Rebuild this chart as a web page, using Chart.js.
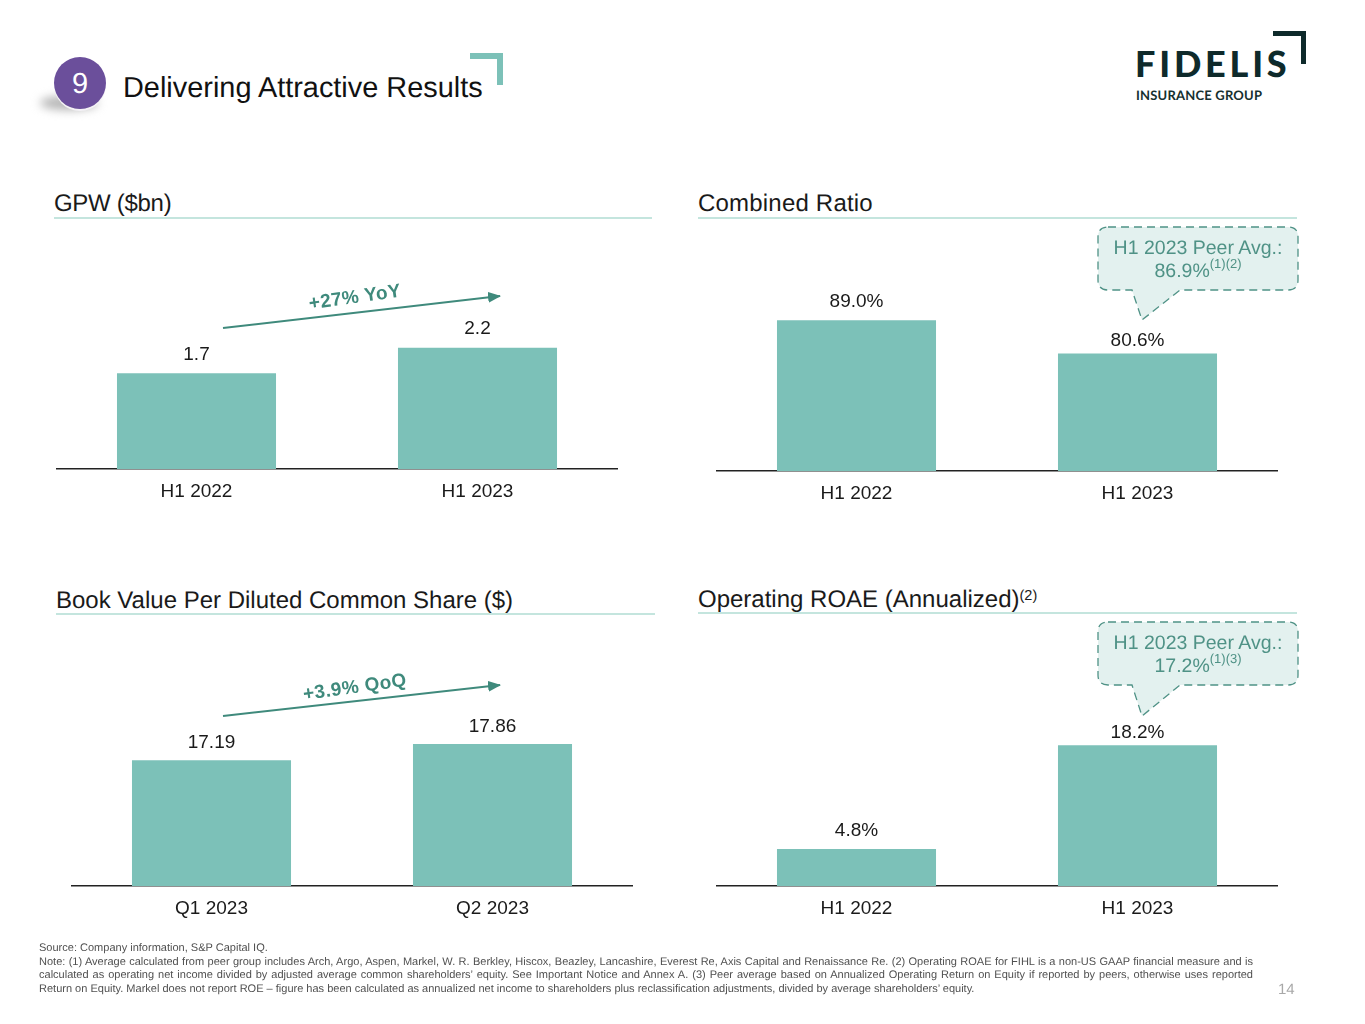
<!DOCTYPE html>
<html>
<head>
<meta charset="utf-8">
<title>Delivering Attractive Results</title>
<script src="https://cdn.jsdelivr.net/npm/chart.js@4/dist/chart.umd.js"></script>
<style>
    html, body { margin: 0; padding: 0; background: #fff; }
    body { position: relative; width: 1365px; height: 1024px; overflow: hidden; font-family: "Liberation Sans", Arial, sans-serif; color: #111; text-rendering: geometricPrecision; }
    canvas { position: absolute; }
    svg { position: absolute; left: 0; top: 0; }
    .abs { position: absolute; white-space: nowrap; }
    .section { font-size: 24px; line-height: 26px; color: #1a1a1a; }
    .section sup { font-size: 14.5px; line-height: 0; vertical-align: 7px; }
    .rule { position: absolute; height: 2px; background: #c4e5de; }
    .peer { width: 200px; text-align: center; font-size: 19.5px; line-height: 23px; color: #4f9286; }
    .peer sup { font-size: 13px; line-height: 0; vertical-align: 9px; }
    .growth { font-size: 19px; font-weight: bold; color: #3f8a7c; letter-spacing: 0.4px; transform: translate(-50%, -50%) rotate(-8deg); }
    .note { left: 39px; width: 1214px; font-size: 11.02px; line-height: 13.6px; color: #505050; }
    .note.fill { white-space: normal; text-align: justify; text-align-last: justify; }
    #badge { left: 54px; top: 57px; width: 52px; height: 52px; border-radius: 50%; background: radial-gradient(circle at 50% 50%, #6b4f9b 0%, #6b4f9b 76%, #8d77b5 100%); color: #fff; font-size: 29px; line-height: 54px; text-align: center; box-shadow: 0 2px 0 #f4f2f6; }
    #badgeShadow { left: 40px; top: 96px; width: 58px; height: 14px; border-radius: 50%; background: #b4b4b4; filter: blur(5px); }
    #logoName { left: 1135px; top: 40px; font-family: Lato, sans-serif; font-weight: 900; font-size: 36px; line-height: 46px; letter-spacing: 3.8px; color: #0e2a2b; }
    #logoSub { left: 1136px; top: 88px; font-family: Lato, sans-serif; font-weight: 700; font-size: 13px; line-height: 15px; letter-spacing: 0.2px; color: #16302f; }
</style>
</head>
<body>
<div id="badgeShadow" class="abs"></div>
<div id="badge" class="abs">9</div>
<div class="abs" style="left:123px;top:70.500px;font-size:28.9px;line-height:34px;color:#111">Delivering Attractive Results</div>
<div id="logoName" class="abs">FIDELIS</div>
<div id="logoSub" class="abs">INSURANCE GROUP</div>

<div class="abs section" style="left:54px;top:191px;letter-spacing:-0.3px">GPW ($bn)</div>
<div class="rule" style="left:54px;top:217px;width:598px"></div>
<div class="abs section" style="left:698px;top:191px;letter-spacing:0.2px">Combined Ratio</div>
<div class="rule" style="left:698px;top:217px;width:599px"></div>
<div class="abs section" style="left:56px;top:588px">Book Value Per Diluted Common Share ($)</div>
<div class="rule" style="left:56px;top:613px;width:599px"></div>
<div class="abs section" style="left:698px;top:587px">Operating ROAE (Annualized)<sup>(2)</sup></div>
<div class="rule" style="left:698px;top:612px;width:599px"></div>

<canvas id="gpwChart" width="562" height="261" style="left:56px;top:248px"></canvas>
<canvas id="ratioChart" width="562" height="278" style="left:716px;top:233px"></canvas>
<canvas id="bookChart" width="562" height="281" style="left:71px;top:645px"></canvas>
<canvas id="roaeChart" width="562" height="272" style="left:716px;top:654px"></canvas>

<svg width="1365" height="1024">
    <defs>
        <marker id="head" markerWidth="13" markerHeight="11" refX="12" refY="5.500" orient="auto" markerUnits="userSpaceOnUse">
            <path d="M0 0 L13 5.500 L0 11 Z" fill="#3f8a7c"></path>
        </marker>
    </defs>
    <path d="M470 56 H500 V85" fill="none" stroke="#7cc1b8" stroke-width="6"></path>
    <path d="M1273 33.500 H1303.500 V64" fill="none" stroke="#0e2a2b" stroke-width="5"></path>
    <line x1="223" y1="328" x2="500" y2="296" stroke="#3f8a7c" stroke-width="2" marker-end="url(#head)"></line>
    <line x1="223" y1="716" x2="500" y2="685" stroke="#3f8a7c" stroke-width="2" marker-end="url(#head)"></line>
    <path d="M1108 227 H1288 Q1298 227 1298 237 V280 Q1298 290 1288 290 H1180 L1142 320 L1132 290 H1108 Q1098 290 1098 280 V237 Q1098 227 1108 227 Z" fill="#e3f1ef" stroke="#4f9286" stroke-width="1.300" stroke-dasharray="8 5"></path>
    <path d="M1108 622 H1288 Q1298 622 1298 632 V675 Q1298 685 1288 685 H1180 L1142 716 L1132 685 H1108 Q1098 685 1098 675 V632 Q1098 622 1108 622 Z" fill="#e3f1ef" stroke="#4f9286" stroke-width="1.300" stroke-dasharray="8 5"></path>
</svg>

<div class="abs growth" style="left:355px;top:298px">+27% YoY</div>
<div class="abs growth" style="left:355px;top:688px">+3.9% QoQ</div>
<div class="abs peer" style="left:1098px;top:237px">H1 2023 Peer Avg.:<br>86.9%<sup>(1)(2)</sup></div>
<div class="abs peer" style="left:1098px;top:632px">H1 2023 Peer Avg.:<br>17.2%<sup>(1)(3)</sup></div>

<div class="abs note" style="top:942px">Source: Company information, S&amp;P Capital IQ.</div>
<div class="abs note fill" style="top:956px">Note: (1) Average calculated from peer group includes Arch, Argo, Aspen, Markel, W. R. Berkley, Hiscox, Beazley, Lancashire, Everest Re, Axis Capital and Renaissance Re. (2) Operating ROAE for FIHL is a non-US GAAP financial measure and is</div>
<div class="abs note fill" style="top:969px">calculated as operating net income divided by adjusted average common shareholders’ equity. See Important Notice and Annex A. (3) Peer average based on Annualized Operating Return on Equity if reported by peers, otherwise uses reported</div>
<div class="abs note" style="top:983px">Return on Equity. Markel does not report ROE – figure has been calculated as annualized net income to shareholders plus reclassification adjustments, divided by average shareholders’ equity.</div>
<div class="abs" style="left:1278px;top:981px;font-size:15px;line-height:17px;color:#a8a8a8">14</div>

<script>
const halfYears = ['H1 2022', 'H1 2023'];
const quarters = ['Q1 2023', 'Q2 2023'];

const gpwValues = [1.72, 2.18];
const gpwLabels = ['1.7', '2.2'];
const ratioValues = [89.0, 80.6];
const ratioLabels = ['89.0%', '80.6%'];
const bookValues = [17.19, 17.86];
const bookLabels = ['17.19', '17.86'];
const roaeValues = [4.8, 18.2];
const roaeLabels = ['4.8%', '18.2%'];

const FONT = '"Liberation Sans", Arial, sans-serif';

// value printed above each bar, gaps = distance from the bar top
const valueLabels = {
    id: 'valueLabels',
    afterDatasetsDraw(chart, args, opts) {
        const ctx = chart.ctx;
        ctx.save();
        ctx.font = '19px ' + FONT;
        ctx.fillStyle = '#1a1a1a';
        ctx.textAlign = 'center';
        ctx.textBaseline = 'bottom';
        chart.getDatasetMeta(0).data.forEach((bar, i) => {
            ctx.fillText(opts.labels[i], bar.x, bar.y - opts.gaps[i]);
        });
        ctx.restore();
    },
};

function drawBars(id, categories, values, labels, yMin, yMax, gaps) {
    new Chart(document.getElementById(id), {
        type: 'bar',
        data: {
            labels: categories,
            datasets: [{
                data: values,
                backgroundColor: '#7cc1b8',
                barPercentage: 0.566,
                categoryPercentage: 1,
            }],
        },
        plugins: [valueLabels],
        options: {
            responsive: false,
            animation: false,
            layout: { padding: 0 },
            plugins: {
                legend: { display: false },
                tooltip: { enabled: false },
                valueLabels: { labels: labels, gaps: gaps },
            },
            scales: {
                x: {
                    grid: { display: false },
                    border: { color: '#222', width: 1.5 },
                    ticks: { color: '#1a1a1a', font: { family: FONT, size: 19 }, padding: 3.5, maxRotation: 0 },
                    afterFit(scale) { scale.height = 40; },
                },
                y: { display: false, min: yMin, max: yMax },
            },
        },
    });
}

drawBars('gpwChart', halfYears, gpwValues, gpwLabels, 0, 3.97, [9, 9]);
drawBars('ratioChart', halfYears, ratioValues, ratioLabels, 51, 111, [9, 3]);
drawBars('bookChart', quarters, bookValues, bookLabels, 11.97, 21.97, [8, 8]);
drawBars('roaeChart', halfYears, roaeValues, roaeLabels, 0, 30, [9, 3]);
</script>
</body>
</html>
